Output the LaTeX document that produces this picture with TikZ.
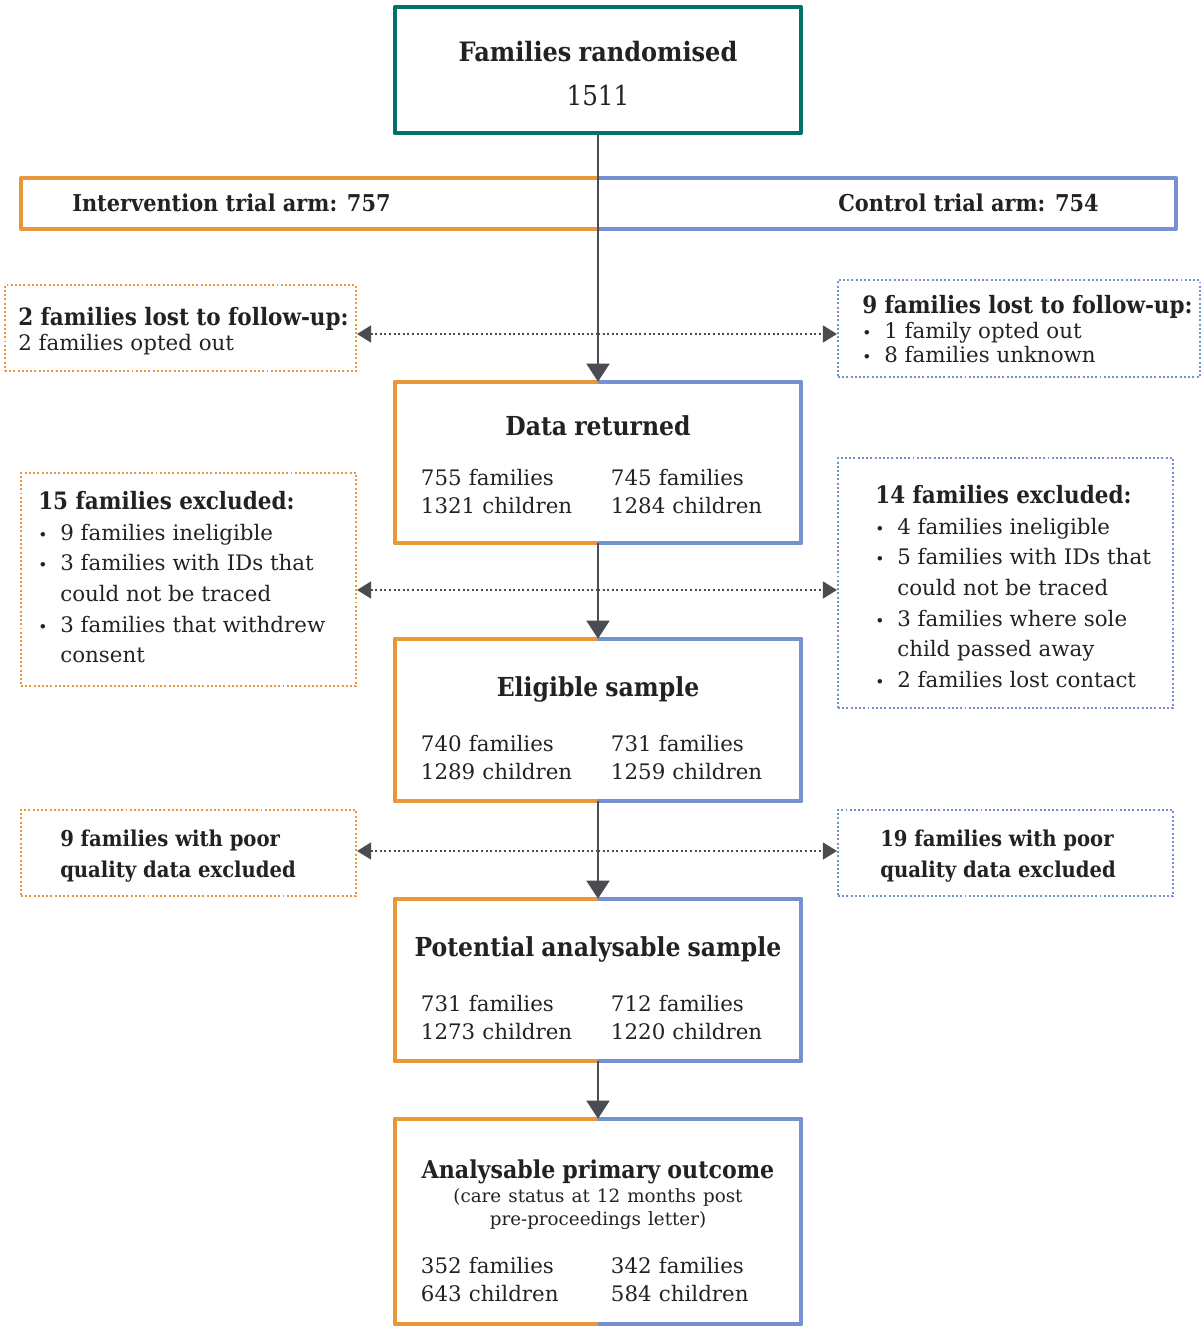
\documentclass[tikz,border=0pt]{standalone}
\usepackage{fontspec}
\setmainfont{DejaVu Serif}
\newfontfamily\headfont{DejaVu Serif Condensed}
\usetikzlibrary{arrows.meta}

\definecolor{randteal}{HTML}{00726A}
\definecolor{armorange}{HTML}{E8973A}
\definecolor{armblue}{HTML}{7591CF}
\definecolor{flowgrey}{HTML}{4B4B52}
\definecolor{ink}{HTML}{222222}

\newcommand{\ttl}[2][17]{{\headfont\fontsize{#1}{20}\selectfont\bfseries #2}}
\newcommand{\bul}{\makebox[0.55cm][l]{\fontsize{11}{11}\selectfont\textbullet}}
\newcommand{\gap}{\makebox[0.55cm]{}}
\newcommand{\cols}[4]{\makebox[4.75cm][l]{#1}\makebox[4.1cm][l]{#2}\\\makebox[4.75cm][l]{#3}\makebox[4.1cm][l]{#4}}

\begin{document}
\begin{tikzpicture}[x=0.025cm,y=-0.025cm,
  font=\fontsize{15.2}{19.9}\selectfont, text=ink,
  randbox/.style={draw=randteal,line width=0.1cm,line join=round,minimum width=10.15cm,minimum height=3.15cm,text width=9.9cm,inner xsep=0.1cm,align=center},
  splitbox/.style={minimum width=10.15cm,text width=9.9cm,inner xsep=0.1cm,align=center},
  armbox/.style={minimum width=28.85cm,minimum height=1.275cm},
  armtext/.style={anchor=west,inner sep=0pt,font=\headfont\fontsize{16.5}{20}\selectfont\bfseries},
  outL/.style={draw=armorange,line width=1.4pt,dash pattern=on 1.4pt off 1.6pt},
  outR/.style={draw=armblue,line width=1.4pt,dash pattern=on 1.4pt off 1.6pt},
  outtext/.style={anchor=north west,inner sep=0pt,align=left},
  flow/.style={draw=flowgrey,line width=0.06cm,-{Triangle[length=0.45cm,width=0.57cm]}},
  drop/.style={draw=flowgrey,line width=0.05cm,dash pattern=on 0.05cm off 0.065cm,-{Triangle[length=0.35cm,width=0.42cm]}}]
\useasboundingbox (0,0) rectangle (1203,1326);

% main column
\node[randbox,text height=0.69cm] (rand) at (598,70) {\ttl[19]{Families randomised}\\[11pt]{\headfont\fontsize{19.5}{24}\selectfont 1511}};
\node[armbox] (arm) at (598.5,203.5) {};
\node[armtext] (armL) at (72,203) {Intervention trial arm: 757};
\node[armtext] (armR) at (838,203) {Control trial arm: 754};

\node[splitbox,minimum height=4.025cm,text height=0.59cm] (data) at (598,462.5) {\ttl[18.6]{Data returned}\\[15.6pt]\cols{755 families}{745 families}{1321 children}{1284 children}};
\node[splitbox,minimum height=4.05cm,text height=0.89cm] (elig) at (598,720) {\ttl[18.6]{Eligible sample}\\[19pt]\cols{740 families}{731 families}{1289 children}{1259 children}};
\node[splitbox,minimum height=4.05cm,text height=0.89cm] (pot) at (598,980) {\ttl[18.6]{Potential analysable sample}\\[19pt]\cols{731 families}{712 families}{1273 children}{1220 children}};
\node[splitbox,minimum height=5.125cm,text height=0.94cm] (anal) at (598,1221.5) {\ttl[17.5]{Analysable primary outcome}\\[-2.8pt]{\fontsize{13}{16}\selectfont(care status at 12 months post}\\[-3.6pt]{\fontsize{13}{16}\selectfont pre-proceedings letter)}\\[14.2pt]\cols{352 families}{342 families}{643 children}{584 children}};

\foreach \b in {arm,data,elig,pot,anal}
{
    \draw[armorange,line width=0.1cm,line join=round] (\b.north) -- (\b.north west) -- (\b.south west) -- (\b.south);
    \draw[armblue,line width=0.1cm,line join=round] (\b.north) -- (\b.north east) -- (\b.south east) -- (\b.south);
}

% side boxes
\node[outL,minimum width=8.775cm,minimum height=2.15cm] (lostL) at (180.5,328) {};
\node[outR,minimum width=9.05cm,minimum height=2.425cm] (lostR) at (1019,328.5) {};
\node[outL,minimum width=8.375cm,minimum height=5.325cm] (exclL) at (188.5,579.5) {};
\node[outR,minimum width=8.375cm,minimum height=6.25cm] (exclR) at (1005.5,583) {};
\node[outL,minimum width=8.375cm,minimum height=2.15cm] (poorL) at (188.5,853) {};
\node[outR,minimum width=8.375cm,minimum height=2.15cm] (poorR) at (1005.5,853) {};

\node[outtext,font=\fontsize{15.2}{17.7}\selectfont] (lostLtxt) at (18,307.5) {\ttl{2 families lost to follow-up:}\\2 families opted out};
\node[outtext,font=\fontsize{15.2}{17.4}\selectfont] (lostRtxt) at (862,295.5) {\ttl{9 families lost to follow-up:}\\\bul 1 family opted out\\\bul 8 families unknown};
\node[outtext,font=\fontsize{15.2}{21.7}\selectfont] (exclLtxt) at (38,491.5) {\ttl{15 families excluded:}\\\bul 9 families ineligible\\\bul 3 families with IDs that\\\gap could not be traced\\\bul 3 families that withdrew\\\gap consent};
\node[outtext,font=\fontsize{15.2}{21.7}\selectfont] (exclRtxt) at (875,485.5) {\ttl{14 families excluded:}\\\bul 4 families ineligible\\\bul 5 families with IDs that\\\gap could not be traced\\\bul 3 families where sole\\\gap child passed away\\\bul 2 families lost contact};
\node[outtext,font=\headfont\fontsize{15.5}{22}\selectfont\bfseries] (poorLtxt) at (60,830) {9 families with poor\\quality data excluded};
\node[outtext,font=\headfont\fontsize{15.5}{22}\selectfont\bfseries] (poorRtxt) at (880,830) {19 families with poor\\quality data excluded};

% connectors
\coordinate (j1) at (598,334);
\coordinate (j2) at (598,590);
\coordinate (j3) at (598,851);
\draw[flow] (rand.south) -- (data.north);
\draw[flow] (data.south) -- (elig.north);
\draw[flow] (elig.south) -- (pot.north);
\draw[flow] (pot.south) -- (anal.north);
\draw[drop] (j1) -- (lostL.east |- j1);
\draw[drop] (j1) -- (lostR.west |- j1);
\draw[drop] (j2) -- (exclL.east |- j2);
\draw[drop] (j2) -- (exclR.west |- j2);
\draw[drop] (j3) -- (poorL.east |- j3);
\draw[drop] (j3) -- (poorR.west |- j3);
\end{tikzpicture}
\end{document}
